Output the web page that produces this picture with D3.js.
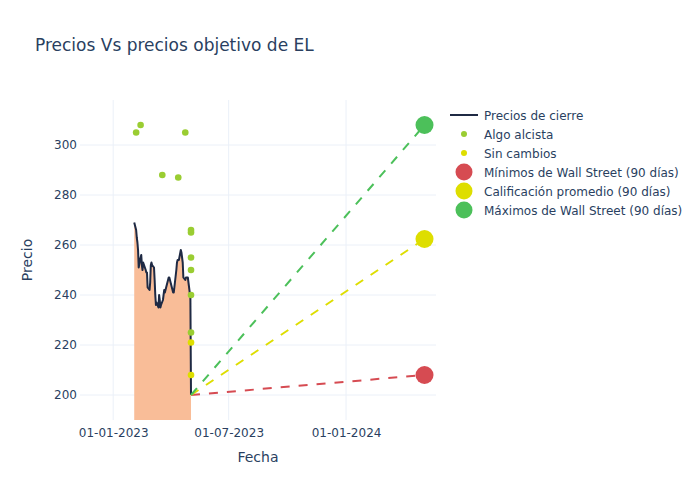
<!DOCTYPE html>
<html>
<head>
<meta charset="utf-8">
<script src="https://cdn.jsdelivr.net/npm/d3@7"></script>
<style>
  html, body { margin: 0; padding: 0; background: #fff; }
  svg { display: block; font-family: "DejaVu Sans", Verdana, sans-serif; }
</style>
</head>
<body>
<svg id="chart" width="700" height="500"></svg>
<script>
// ---- Data ----
const closeDates = ["2023-02-03","2023-02-06","2023-02-07","2023-02-08","2023-02-09","2023-02-10",
  "2023-02-13","2023-02-14","2023-02-15","2023-02-16","2023-02-17",
  "2023-02-21","2023-02-22","2023-02-23","2023-02-24",
  "2023-02-27","2023-02-28","2023-03-01","2023-03-02","2023-03-03",
  "2023-03-06","2023-03-07","2023-03-08","2023-03-09","2023-03-10",
  "2023-03-13","2023-03-14","2023-03-15","2023-03-16","2023-03-17",
  "2023-03-20","2023-03-21","2023-03-22","2023-03-23","2023-03-24",
  "2023-03-27","2023-03-28","2023-03-29","2023-03-30","2023-03-31",
  "2023-04-03","2023-04-04","2023-04-05","2023-04-06",
  "2023-04-10","2023-04-11","2023-04-12","2023-04-13","2023-04-14",
  "2023-04-17","2023-04-18","2023-04-19","2023-04-20","2023-04-21",
  "2023-04-24","2023-04-25","2023-04-26","2023-04-27","2023-04-28",
  "2023-05-01","2023-05-02","2023-05-03"];
const closePrices = [269,266,263,261,258,251,
  255,256,252,250,253,
  250,249,249,243,
  242,245,252,253,252,
  251,246,240,236,237,
  235,240,238,235,236,
  238,240,242,241,242,
  245,246,247,247,246,
  243,242,241,241,
  250,253,254,254,254,
  258,257,255,253,247,
  246,247,247,247,247,
  241,240,200];

const bullishDates = ["2023-02-06","2023-02-13","2023-03-19","2023-04-13","2023-04-24",
  "2023-05-03","2023-05-03","2023-05-03","2023-05-03","2023-05-03","2023-05-03"];
const bullishTargets = [305,308,288,287,305,266,265,255,250,240,225];

const neutralDates = ["2023-05-03","2023-05-03"];
const neutralTargets = [221,208];

const forecastStart = "2023-05-03";
const forecastEnd = "2024-05-03";
const startPrice = 200;
const forecastNames = ["Mínimos de Wall Street (90 días)","Calificación promedio (90 días)","Máximos de Wall Street (90 días)"];
const forecastValues = [208, 262.4, 308];
const forecastColors = ["#d64b52","#dede00","#4cc05a"];

const xTicks = ["2023-01-01","2023-07-01","2024-01-01"];
const yTicks = [200,220,240,260,280,300];
const xDomain = ["2022-11-10","2024-05-21"];
const yDomain = [190, 318];

// ---- Layout ----
const parse = d3.utcParse("%Y-%m-%d");
const fmt = d3.utcFormat("%d-%m-%Y");
const L = 80, R = 436, T = 100, B = 420;
const textColor = "#2a3f5f";
const gridColor = "#ebf0f8";

const svg = d3.select("#chart");
const x = d3.scaleUtc().domain(xDomain.map(parse)).range([L, R]);
const y = d3.scaleLinear().domain(yDomain).range([B, T]);

// Title
svg.append("text").attr("x", 35).attr("y", 51)
  .attr("font-size", 17).attr("fill", textColor)
  .text("Precios Vs precios objetivo de EL");

// Grid
const grid = svg.append("g");
grid.selectAll(".gx").data(xTicks.map(parse)).join("line")
  .attr("x1", d => x(d)).attr("x2", d => x(d)).attr("y1", T).attr("y2", B)
  .attr("stroke", gridColor).attr("stroke-width", 1);
grid.selectAll(".gy").data(yTicks).join("line")
  .attr("x1", L).attr("x2", R).attr("y1", d => y(d)).attr("y2", d => y(d))
  .attr("stroke", gridColor).attr("stroke-width", 1);

// Axes (labels only)
const xAxis = d3.axisBottom(x).tickValues(xTicks.map(parse)).tickFormat(fmt).tickSize(0).tickPadding(8);
const gx = svg.append("g").attr("transform", `translate(0,${B})`).call(xAxis);
gx.select(".domain").remove();
gx.selectAll("text").attr("font-size", 12).attr("fill", textColor).attr("font-family", "DejaVu Sans");

const yAxis = d3.axisLeft(y).tickValues(yTicks).tickSize(0).tickPadding(3);
const gy = svg.append("g").attr("transform", `translate(${L},0)`).call(yAxis);
gy.select(".domain").remove();
gy.selectAll("text").attr("font-size", 12).attr("fill", textColor).attr("font-family", "DejaVu Sans");

// Axis titles
svg.append("text").attr("x", (L + R) / 2).attr("y", 462).attr("text-anchor", "middle")
  .attr("font-size", 14).attr("fill", textColor).text("Fecha");
svg.append("text").attr("transform", `translate(32,${(T + B) / 2}) rotate(-90)`)
  .attr("text-anchor", "middle").attr("font-size", 14).attr("fill", textColor).text("Precio");

// Clip
svg.append("clipPath").attr("id", "clip").append("rect")
  .attr("x", L).attr("y", T).attr("width", R - L).attr("height", B - T);
const plot = svg.append("g").attr("clip-path", "url(#clip)");

const closeData = closeDates.map((d, i) => ({ date: parse(d), v: closePrices[i] }));

// Area fill to zero
const area = d3.area().x(d => x(d.date)).y0(y(0)).y1(d => y(d.v));
plot.append("path").datum(closeData).attr("d", area).attr("fill", "#f9bd98");

// Close line
const line = d3.line().x(d => x(d.date)).y(d => y(d.v));
plot.append("path").datum(closeData).attr("d", line)
  .attr("fill", "none").attr("stroke", "#1f2a44").attr("stroke-width", 2)
  .attr("stroke-linejoin", "round");

// Bullish points
plot.selectAll(".bull").data(bullishDates.map((d, i) => ({ date: parse(d), v: bullishTargets[i] })))
  .join("circle").attr("cx", d => x(d.date)).attr("cy", d => y(d.v)).attr("r", 3.3)
  .attr("fill", "#9acd32");
// Neutral points
plot.selectAll(".neu").data(neutralDates.map((d, i) => ({ date: parse(d), v: neutralTargets[i] })))
  .join("circle").attr("cx", d => x(d.date)).attr("cy", d => y(d.v)).attr("r", 3.3)
  .attr("fill", "#dede00");

// Forecast dashed lines and markers
forecastValues.forEach((v, i) => {
  plot.append("line")
    .attr("x1", x(parse(forecastStart))).attr("y1", y(startPrice))
    .attr("x2", x(parse(forecastEnd))).attr("y2", y(v))
    .attr("stroke", forecastColors[i]).attr("stroke-width", 2)
    .attr("stroke-dasharray", "9,9");
});
forecastValues.forEach((v, i) => {
  svg.append("circle").attr("cx", x(parse(forecastEnd))).attr("cy", y(v)).attr("r", 9)
    .attr("fill", forecastColors[i]);
});

// Legend
const lg = svg.append("g");
const lx = 450, ly0 = 115, step = 19;
const legendItems = [
  { name: "Precios de cierre", type: "line", color: "#1f2a44" },
  { name: "Algo alcista", type: "dot", color: "#9acd32", r: 3 },
  { name: "Sin cambios", type: "dot", color: "#dede00", r: 3 },
  { name: forecastNames[0], type: "dot", color: forecastColors[0], r: 8.5 },
  { name: forecastNames[1], type: "dot", color: forecastColors[1], r: 8.5 },
  { name: forecastNames[2], type: "dot", color: forecastColors[2], r: 8.5 }
];
legendItems.forEach((it, i) => {
  const cy = ly0 + i * step;
  if (it.type === "line") {
    lg.append("line").attr("x1", lx).attr("x2", lx + 28).attr("y1", cy).attr("y2", cy)
      .attr("stroke", it.color).attr("stroke-width", 2);
  } else {
    lg.append("circle").attr("cx", lx + 14).attr("cy", cy).attr("r", it.r).attr("fill", it.color);
  }
  lg.append("text").attr("x", lx + 34).attr("y", cy + 4.5).attr("font-size", 12)
    .attr("fill", textColor).text(it.name);
});
</script>
</body>
</html>
